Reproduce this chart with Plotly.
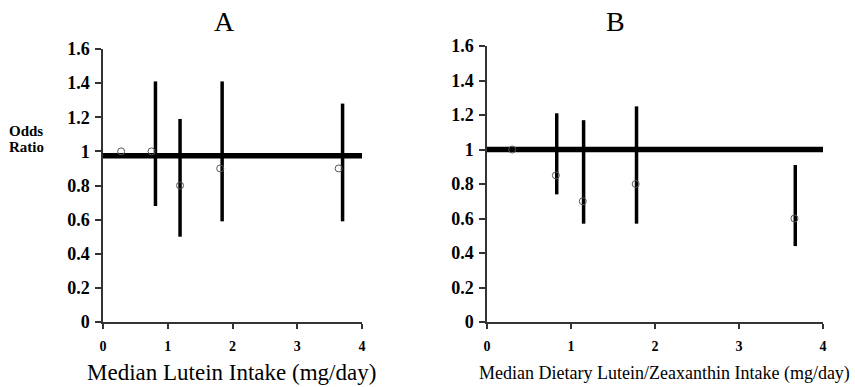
import plotly.graph_objects as go

# Panel A: median lutein intake quintiles
a_x = [0.28, 0.75, 1.19, 1.81, 3.64]
a_or = [1.0, 1.0, 0.8, 0.9, 0.9]
a_ci_x = [0.81, 1.19, 1.84, 3.70]
a_lo = [0.68, 0.50, 0.59, 0.59]
a_hi = [1.41, 1.19, 1.41, 1.28]
a_ref = 0.975

# Panel B: median dietary lutein/zeaxanthin intake quintiles
b_x = [0.30, 0.82, 1.14, 1.77, 3.66]
b_or = [1.0, 0.85, 0.7, 0.8, 0.6]
b_ci_x = [0.83, 1.15, 1.78, 3.67]
b_lo = [0.74, 0.57, 0.57, 0.44]
b_hi = [1.21, 1.17, 1.25, 0.91]
b_ref = 1.0

x_range = [0, 4]
y_ticks = [0, 0.2, 0.4, 0.6, 0.8, 1.0, 1.2, 1.4, 1.6]
y_labels = ["0", "0.2", "0.4", "0.6", "0.8", "1", "1.2", "1.4", "1.6"]
x_ticks = [0, 1, 2, 3, 4]

W, H = 855, 387
SERIF = "Liberation Serif, Times New Roman, serif"

fig = go.Figure()


def ci_segments(xs, lo, hi):
    sx, sy = [], []
    for x, l, h in zip(xs, lo, hi):
        sx += [x, x, None]
        sy += [l, h, None]
    return sx, sy


def add_panel(xa, ya, px, por, cx, lo, hi, ref):
    fig.add_trace(go.Scatter(x=x_range, y=[ref, ref], mode="lines",
                             line=dict(color="black", width=5.5),
                             xaxis=xa, yaxis=ya, showlegend=False,
                             cliponaxis=False, hoverinfo="skip"))
    sx, sy = ci_segments(cx, lo, hi)
    fig.add_trace(go.Scatter(x=sx, y=sy, mode="lines",
                             line=dict(color="black", width=3.5),
                             xaxis=xa, yaxis=ya, showlegend=False,
                             cliponaxis=False, hoverinfo="skip"))
    fig.add_trace(go.Scatter(x=px, y=por, mode="markers",
                             marker=dict(symbol="circle-open", size=7,
                                         color="#555", line=dict(width=1)),
                             xaxis=xa, yaxis=ya, showlegend=False,
                             cliponaxis=False))


add_panel("x", "y", a_x, a_or, a_ci_x, a_lo, a_hi, a_ref)
add_panel("x2", "y2", b_x, b_or, b_ci_x, b_lo, b_hi, b_ref)

axis_common = dict(showgrid=False, zeroline=False, showline=True,
                   linecolor="#333", linewidth=1.5, ticks="outside",
                   tickcolor="#333", tickwidth=1.5, automargin=False)

xaxis_style = dict(axis_common, range=x_range, tickvals=x_ticks,
                   ticklen=5, ticklabelstandoff=5,
                   tickfont=dict(family=SERIF, size=14, color="black",
                                 weight="bold"))
yaxis_style = dict(axis_common, range=[0, 1.6], tickvals=y_ticks,
                   ticktext=y_labels, ticklen=6, ticklabelstandoff=2,
                   tickfont=dict(family=SERIF, size=18, color="black",
                                 weight="bold"))


def px_x(v):
    return v / W


def px_y(v):
    return 1 - v / H


def label(text, x, y, size, bold=False):
    return dict(text=f"<b>{text}</b>" if bold else text,
                x=px_x(x), y=px_y(y), xref="paper", yref="paper",
                xanchor="center", yanchor="middle", showarrow=False,
                font=dict(family=SERIF, size=size, color="black"))


fig.update_layout(
    width=W, height=H,
    margin=dict(l=0, r=0, t=0, b=0, autoexpand=False),
    paper_bgcolor="white", plot_bgcolor="white",
    xaxis=dict(xaxis_style, domain=[px_x(103), px_x(362)], anchor="y"),
    yaxis=dict(yaxis_style, domain=[px_y(322), px_y(49)], anchor="x"),
    xaxis2=dict(xaxis_style, domain=[px_x(487), px_x(823)], anchor="y2"),
    yaxis2=dict(yaxis_style, domain=[px_y(322), px_y(46)], anchor="x2"),
    annotations=[
        label("A", 224, 22, 28),
        label("B", 615, 22, 28),
        label("Odds", 26, 131, 15, bold=True),
        label("Ratio", 26, 147, 15, bold=True),
        label("Median Lutein Intake (mg/day)", 232, 372, 23),
        label("Median Dietary Lutein/Zeaxanthin Intake (mg/day)", 664, 373, 18),
    ],
)

fig.write_html("out.html")
